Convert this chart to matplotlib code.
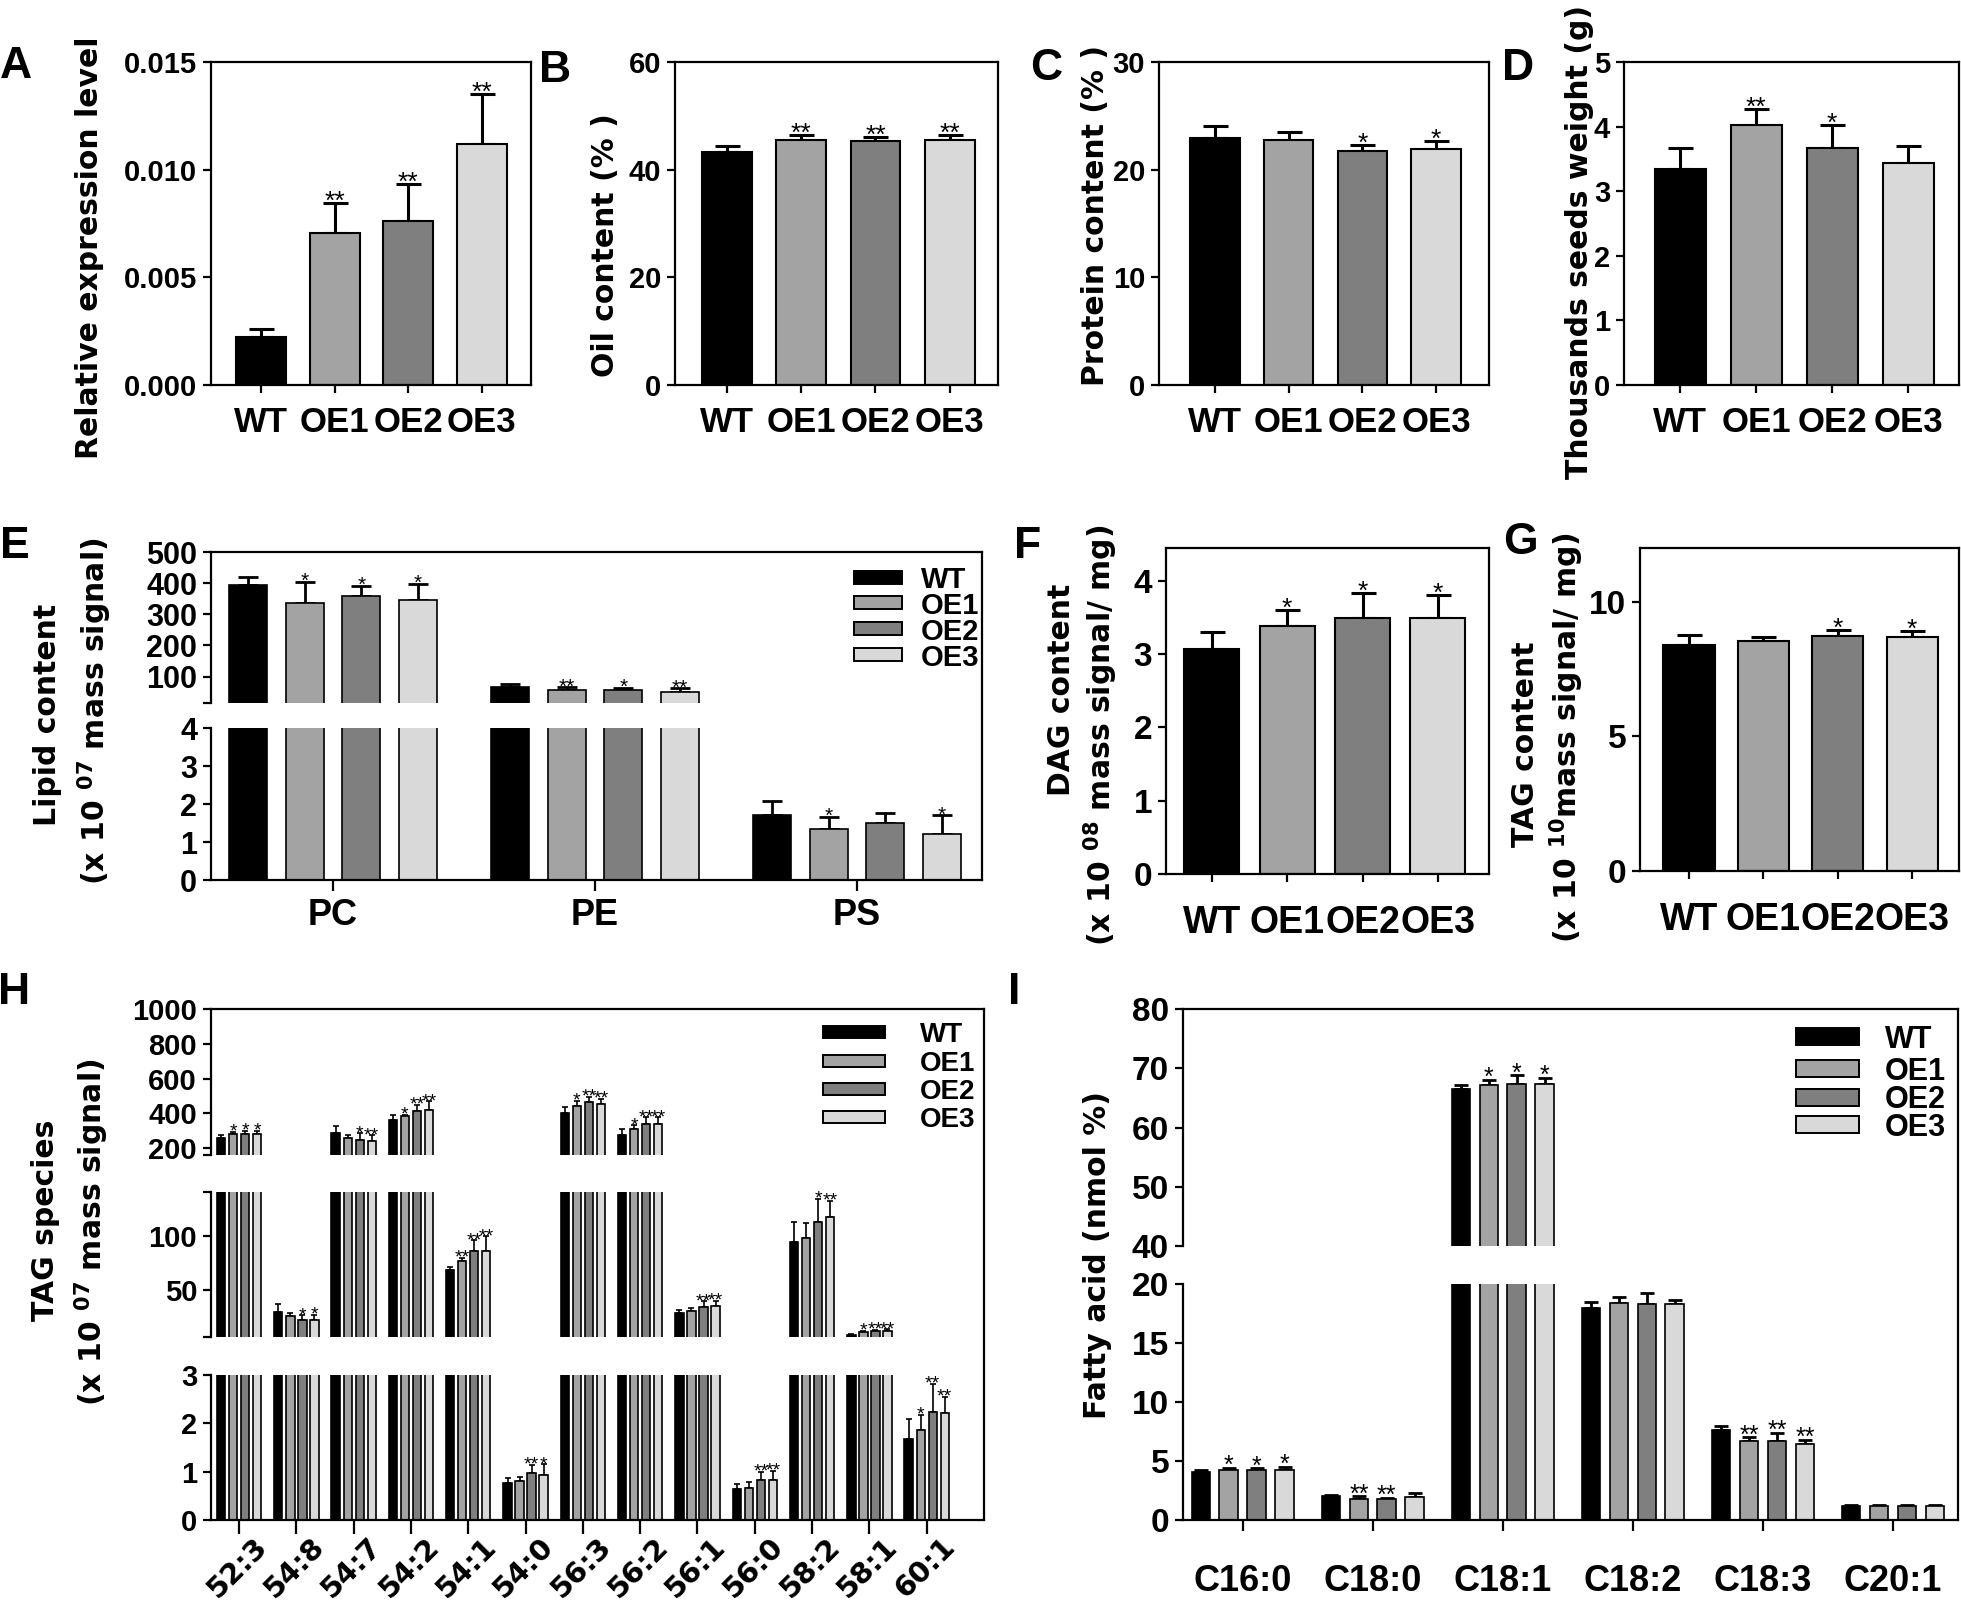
import numpy as np
import matplotlib
matplotlib.use("Agg")
import matplotlib.pyplot as plt
import matplotlib.transforms as mtransforms
from matplotlib.lines import Line2D
from matplotlib.patches import Rectangle

plt.rcParams['font.family'] = ['Liberation Sans', 'DejaVu Sans']
plt.rcParams['font.weight'] = 'bold'
plt.rcParams['mathtext.default'] = 'regular'

# ---------------- data ----------------
groups = ['WT', 'OE1', 'OE2', 'OE3']
colors = ['#000000', '#a3a3a3', '#7f7f7f', '#d9d9d9']

# A relative expression
expr_mean = [0.00224, 0.00706, 0.00760, 0.0112]
expr_err = [0.00034, 0.00139, 0.00175, 0.0023]
expr_sig = ['', '**', '**', '**']
# B oil content
oil_mean = [43.3, 45.5, 45.3, 45.5]
oil_err = [1.1, 0.9, 0.8, 1.0]
oil_sig = ['', '**', '**', '**']
# C protein content
prot_mean = [22.9, 22.8, 21.7, 21.9]
prot_err = [1.2, 0.7, 0.6, 0.8]
prot_sig = ['', '', '*', '*']
# D thousand seed weight
tsw_mean = [3.35, 4.02, 3.67, 3.43]
tsw_err = [0.32, 0.26, 0.36, 0.27]
tsw_sig = ['', '**', '*', '']
# E lipid classes
lipid_classes = ['PC', 'PE', 'PS']
lipid_WT = [393, 66, 1.70]
lipid_OE1 = [337, 56, 1.35]
lipid_OE2 = [360, 56, 1.50]
lipid_OE3 = [345, 51, 1.22]
lipid_WT_err = [28, 9, 0.39]
lipid_OE1_err = [68, 9, 0.30]
lipid_OE2_err = [32, 8, 0.26]
lipid_OE3_err = [52, 11, 0.48]
lipid_OE1_sig = ['*', '**', '*']
lipid_OE2_sig = ['*', '*', '']
lipid_OE3_sig = ['*', '**', '*']
# F DAG
dag_mean = [3.07, 3.39, 3.50, 3.49]
dag_err = [0.24, 0.22, 0.34, 0.32]
dag_sig = ['', '*', '*', '*']
# G TAG
tag_mean = [8.39, 8.55, 8.73, 8.70]
tag_err = [0.37, 0.15, 0.22, 0.21]
tag_sig = ['', '', '*', '*']
# H TAG species
tag_species = ['52:3', '54:8', '54:7', '54:2', '54:1', '54:0', '56:3',
               '56:2', '56:1', '56:0', '58:2', '58:1', '60:1']
H_WT = [256, 29.5, 287, 362, 68.7, 0.77, 400, 275, 28.7, 0.64, 94.8, 8.2, 1.67]
H_OE1 = [280, 25.7, 259, 386, 76.9, 0.81, 442, 308, 30.6, 0.67, 98.5, 10.8, 1.87]
H_OE2 = [280, 22.0, 245, 416, 86.6, 0.98, 464, 341, 34.7, 0.83, 113.4, 11.9, 2.23]
H_OE3 = [280, 22.0, 238, 421, 86.6, 0.93, 454, 341, 35.4, 0.83, 117.9, 11.9, 2.21]
H_WT_err = [19, 7.5, 42, 26, 2.9, 0.09, 38, 33, 3.3, 0.10, 18.2, 1.1, 0.41]
H_OE1_err = [14, 3.0, 16, 7, 3.0, 0.08, 29, 24, 2.6, 0.11, 14.2, 1.5, 0.31]
H_OE2_err = [19, 4.9, 40, 33, 9.7, 0.16, 30, 35, 5.2, 0.17, 21.3, 1.5, 0.59]
H_OE3_err = [19, 5.0, 35, 47, 13.4, 0.22, 31, 35, 4.9, 0.19, 15.1, 1.9, 0.34]
H_OE1_sig = ['*', '', '', '*', '**', '', '*', '*', '', '', '', '*', '*']
H_OE2_sig = ['*', '*', '*', '**', '**', '**', '**', '**', '**', '**', '*', '**', '**']
H_OE3_sig = ['*', '*', '**', '**', '**', '*', '**', '**', '**', '**', '**', '**', '**']
# I fatty acids
fatty = ['C16:0', 'C18:0', 'C18:1', 'C18:2', 'C18:3', 'C20:1']
I_WT = [4.10, 2.05, 66.5, 17.95, 7.62, 1.20]
I_OE1 = [4.27, 1.81, 67.2, 18.36, 6.73, 1.20]
I_OE2 = [4.20, 1.74, 67.4, 18.30, 6.67, 1.20]
I_OE3 = [4.27, 1.95, 67.4, 18.30, 6.43, 1.20]
I_WT_err = [0.17, 0.10, 0.7, 0.50, 0.35, 0.06]
I_OE1_err = [0.17, 0.19, 0.9, 0.55, 0.27, 0.10]
I_OE2_err = [0.17, 0.16, 1.4, 0.90, 0.68, 0.03]
I_OE3_err = [0.23, 0.30, 1.0, 0.37, 0.34, 0.06]
I_OE1_sig = ['*', '**', '*', '', '**', '']
I_OE2_sig = ['*', '**', '*', '', '**', '']
I_OE3_sig = ['*', '', '*', '', '**', '']

# ---------------- figure ----------------
W, H = 1961, 1612
fig = plt.figure(figsize=(W / 100, H / 100), dpi=100)
LW = 1.6
NARROW = ['Liberation Sans Narrow', 'Liberation Sans', 'DejaVu Sans']
WIDE = ['DejaVu Sans']


def make_ax(x0, y0, x1, y1):
    ax = fig.add_axes([x0 / W, 1 - y1 / H, (x1 - x0) / W, (y1 - y0) / H])
    for s in ax.spines.values():
        s.set_linewidth(LW)
    ax.tick_params(direction='out', length=6, width=LW, pad=4)
    ax.set_facecolor('none')
    return ax


def fig_line(x0, y0, x1, y1):
    fig.add_artist(Line2D([x0 / W, x1 / W], [1 - y0 / H, 1 - y1 / H],
                          transform=fig.transFigure, color='black', lw=LW,
                          solid_capstyle='projecting'))


def fig_text(x, y, s, **kw):
    fig.text(x / W, 1 - y / H, s, **kw)


def stars(ax_list, xs, tops, sigs, fs, off):
    for x, t, s in zip(xs, tops, sigs):
        if not s:
            continue
        for ax in ax_list:
            lo, hi = ax.get_ylim()
            if lo <= t <= hi:
                ax.annotate(s, (x, t), xytext=(0, off), textcoords='offset pixels',
                            ha='center', va='baseline', fontsize=fs,
                            fontweight='normal', annotation_clip=False)
                break


def simple_panel(rect, means, errs, sigs, ylim, yticks, ytl, xlim, width,
                 xpad=9, xfs=25, yfs=21):
    ax = make_ax(*rect)
    x = np.arange(len(groups))
    ax.bar(x, means, width, color=colors, edgecolor='black', linewidth=1.5, zorder=2)
    ax.errorbar(x, means, yerr=[np.zeros(len(means)), errs], fmt='none',
                ecolor='black', elinewidth=2.2, capsize=9, capthick=2.2, zorder=1)
    ax.set_xlim(*xlim)
    ax.set_ylim(*ylim)
    ax.set_yticks(yticks)
    ax.set_yticklabels(ytl, fontsize=yfs)
    ax.set_xticks(x)
    ax.set_xticklabels(groups, fontsize=xfs)
    ax.tick_params(axis='x', pad=xpad)
    tops = np.array(means) + np.array(errs)
    stars([ax], x, tops, sigs, 19, -6)
    return ax


def grouped(ax_list, series, errs, step, width, elw, cap):
    n = len(series[0])
    x = np.arange(n)
    pos = []
    for i, (vals, err) in enumerate(zip(series, errs)):
        xi = x + (i - 1.5) * step
        pos.append(xi)
        for ax in ax_list:
            ax.bar(xi, vals, width, color=colors[i], edgecolor='black',
                   linewidth=1.2, zorder=2)
            ax.errorbar(xi, vals, yerr=[np.zeros(n), err], fmt='none', ecolor='black',
                        elinewidth=elw, capsize=cap, capthick=elw, zorder=1)
    return pos


def legend(xp, wp, hp, ycs, xt, fs, family=None):
    for i, g in enumerate(groups):
        yc = ycs[i]
        fig.add_artist(Rectangle((xp / W, 1 - (yc + hp / 2) / H), wp / W, hp / H,
                                 transform=fig.transFigure, facecolor=colors[i],
                                 edgecolor='black', lw=1.4))
        kw = dict(ha='left', va='center_baseline', fontsize=fs, fontweight='bold')
        if family:
            kw['family'] = family
        fig_text(xt, yc, g, **kw)


# ---- Row 1 ----
simple_panel((211, 62, 531, 385), expr_mean, expr_err, expr_sig, (0, 0.015),
             [0, 0.005, 0.010, 0.015], ['0.000', '0.005', '0.010', '0.015'],
             (-0.68, 3.67), 0.68)
simple_panel((675, 62, 998, 385), oil_mean, oil_err, oil_sig, (0, 60),
             [0, 20, 40, 60], ['0', '20', '40', '60'], (-0.70, 3.65), 0.67)
simple_panel((1159, 62, 1489, 385), prot_mean, prot_err, prot_sig, (0, 30),
             [0, 10, 20, 30], ['0', '10', '20', '30'], (-0.76, 3.72), 0.67)
simple_panel((1624, 62, 1959, 385), tsw_mean, tsw_err, tsw_sig, (0, 5),
             [0, 1, 2, 3, 4, 5], ['0', '1', '2', '3', '4', '5'], (-0.74, 3.67), 0.67)

# ---- F, G ----
simple_panel((1166, 548, 1489, 874), dag_mean, dag_err, dag_sig, (0, 4.45),
             [0, 1, 2, 3, 4], ['0', '1', '2', '3', '4'], (-0.61, 3.68), 0.73,
             xpad=16, xfs=27, yfs=24)
simple_panel((1640, 548, 1959, 871), tag_mean, tag_err, tag_sig, (0, 12),
             [0, 5, 10], ['0', '5', '10'], (-0.66, 3.63), 0.69, xpad=16, xfs=27,
             yfs=24)

# ---- E broken axis ----
eU = make_ax(211, 552, 982, 703)
eL = make_ax(211, 728, 982, 880)
for ax in (eU, eL):
    ax.spines['right'].set_visible(False)
    ax.set_xlim(-0.466, 2.477)
eU.spines['bottom'].set_visible(False)
eL.spines['top'].set_visible(False)
eU.set_ylim(15, 500)
eL.set_ylim(0, 4)
eU.set_yticks([15, 100, 200, 300, 400, 500])
eU.set_yticklabels(['', '100', '200', '300', '400', '500'], fontsize=22, family=NARROW)
eL.set_yticks([0, 1, 2, 3, 4])
eL.set_yticklabels(['0', '1', '2', '3', '4'], fontsize=22, family=NARROW)
eU.tick_params(axis='x', bottom=False, labelbottom=False)
posE = grouped([eU, eL], [lipid_WT, lipid_OE1, lipid_OE2, lipid_OE3],
               [lipid_WT_err, lipid_OE1_err, lipid_OE2_err, lipid_OE3_err],
               0.216, 0.145, 2.0, 7)
eL.set_xticks(np.arange(len(lipid_classes)))
eL.set_xticklabels(lipid_classes, fontsize=26)
eL.tick_params(axis='x', length=8, pad=5)
for i, sig in enumerate([['', '', ''], lipid_OE1_sig, lipid_OE2_sig, lipid_OE3_sig]):
    vals = [lipid_WT, lipid_OE1, lipid_OE2, lipid_OE3][i]
    errs = [lipid_WT_err, lipid_OE1_err, lipid_OE2_err, lipid_OE3_err][i]
    stars([eU, eL], posE[i], np.array(vals) + np.array(errs), sig, 15, -5)
fig_line(982, 552, 982, 880)
legend(854, 48, 13, [577, 603, 629, 655], 921, 21, family=NARROW)

# ---- H broken axis (three segments) ----
hU = make_ax(211, 1009, 984, 1155)
hM = make_ax(211, 1192, 984, 1337)
hL = make_ax(211, 1375, 984, 1520)
for ax in (hU, hM, hL):
    ax.spines['right'].set_visible(False)
    ax.set_xlim(-0.49, 13.0)
for ax in (hU, hM):
    ax.spines['bottom'].set_visible(False)
    ax.tick_params(axis='x', bottom=False, labelbottom=False)
for ax in (hM, hL):
    ax.spines['top'].set_visible(False)
hU.set_ylim(160, 1000)
hM.set_ylim(6.5, 141)
hL.set_ylim(0, 3)
hU.set_yticks([160, 200, 400, 600, 800, 1000])
hU.set_yticklabels(['', '200', '400', '600', '800', '1000'], fontsize=21)
hM.set_yticks([6.5, 50, 100, 141])
hM.set_yticklabels(['', '50', '100', ''], fontsize=21)
hL.set_yticks([0, 1, 2, 3])
hL.set_yticklabels(['0', '1', '2', '3'], fontsize=21)
posH = grouped([hU, hM, hL], [H_WT, H_OE1, H_OE2, H_OE3],
               [H_WT_err, H_OE1_err, H_OE2_err, H_OE3_err], 0.21, 0.145, 1.2, 2.5)
hsigs = [[''] * len(tag_species), H_OE1_sig, H_OE2_sig, H_OE3_sig]
hvals = [H_WT, H_OE1, H_OE2, H_OE3]
herrs = [H_WT_err, H_OE1_err, H_OE2_err, H_OE3_err]
for i in range(4):
    stars([hU, hM, hL], posH[i], np.array(hvals[i]) + np.array(herrs[i]),
          hsigs[i], 14, -5)
hL.set_xticks(np.arange(len(tag_species)))
hL.set_xticklabels(tag_species, fontsize=21, rotation=45, ha='right',
                   va='center', rotation_mode='anchor', family=WIDE)
hL.tick_params(axis='x', length=10, pad=6)
off = mtransforms.ScaledTranslation(0.24, 0, fig.dpi_scale_trans)
for lab in hL.get_xticklabels():
    lab.set_transform(lab.get_transform() + off)
fig_line(984, 1009, 984, 1520)
legend(823, 62, 12, [1032, 1061, 1089, 1117], 920, 20)

# ---- I broken axis ----
iU = make_ax(1183, 1009, 1958, 1246)
iL = make_ax(1183, 1284, 1958, 1520)
for ax in (iU, iL):
    ax.spines['right'].set_visible(False)
    ax.set_xlim(-0.46, 5.5)
iU.spines['bottom'].set_visible(False)
iU.tick_params(axis='x', bottom=False, labelbottom=False)
iL.spines['top'].set_visible(False)
iU.set_ylim(40, 80)
iL.set_ylim(0, 20)
iU.set_yticks([40, 50, 60, 70, 80])
iU.set_yticklabels(['40', '50', '60', '70', '80'], fontsize=24)
iL.set_yticks([0, 5, 10, 15, 20])
iL.set_yticklabels(['0', '5', '10', '15', '20'], fontsize=24)
posI = grouped([iU, iL], [I_WT, I_OE1, I_OE2, I_OE3],
               [I_WT_err, I_OE1_err, I_OE2_err, I_OE3_err], 0.215, 0.144, 2.0, 5)
isigs = [[''] * len(fatty), I_OE1_sig, I_OE2_sig, I_OE3_sig]
ivals = [I_WT, I_OE1, I_OE2, I_OE3]
ierrs = [I_WT_err, I_OE1_err, I_OE2_err, I_OE3_err]
for i in range(4):
    stars([iU, iL], posI[i], np.array(ivals[i]) + np.array(ierrs[i]), isigs[i], 18, -5)
iL.set_xticks(np.arange(len(fatty)))
iL.set_xticklabels(fatty, fontsize=26)
iL.tick_params(axis='x', length=8, pad=24)
fig_line(1958, 1009, 1958, 1520)
legend(1796, 63, 17, [1036, 1068, 1097, 1124], 1885, 22)

# ---- y labels ----
yl = dict(rotation=90, ha='center', va='center', fontsize=21.5, fontweight='bold',
          family=WIDE)
fig_text(90, 248, 'Relative expression level', **yl)
fig_text(606, 245, 'Oil content (% )', **yl)
fig_text(1096, 215, 'Protein content (% )', **yl)
fig_text(1580, 242, 'Thousands seeds weight (g)', **yl)
fig_text(48, 715, 'Lipid content', **yl)
fig_text(95, 711, '(x 10 $^{07}$ mass signal)', **yl)
fig_text(1062, 690, 'DAG content', **yl)
fig_text(1101, 735, '(x 10 $^{08}$ mass signal/ mg)', **yl)
fig_text(1526, 744, 'TAG content', **yl)
fig_text(1567, 738, '(x 10 $^{10}$mass signal/ mg)', **yl)
fig_text(46, 1220, 'TAG species', **yl)
fig_text(92, 1232, '(x 10 $^{07}$ mass signal)', **yl)
fig_text(1097, 1255, 'Fatty acid (nmol %)', **yl)

# ---- panel letters ----
pl = dict(ha='center', va='center', fontsize=32, fontweight='bold')
for letter, (px, py) in zip('ABCDEFGHI', [(16, 66), (555, 70), (1046, 68), (1518, 68),
                                         (15, 547), (1028, 547), (1520, 542),
                                         (14, 993), (1014, 993)]):
    fig_text(px, py, letter, **pl)

fig.savefig('out.png', dpi=100, facecolor='white')
